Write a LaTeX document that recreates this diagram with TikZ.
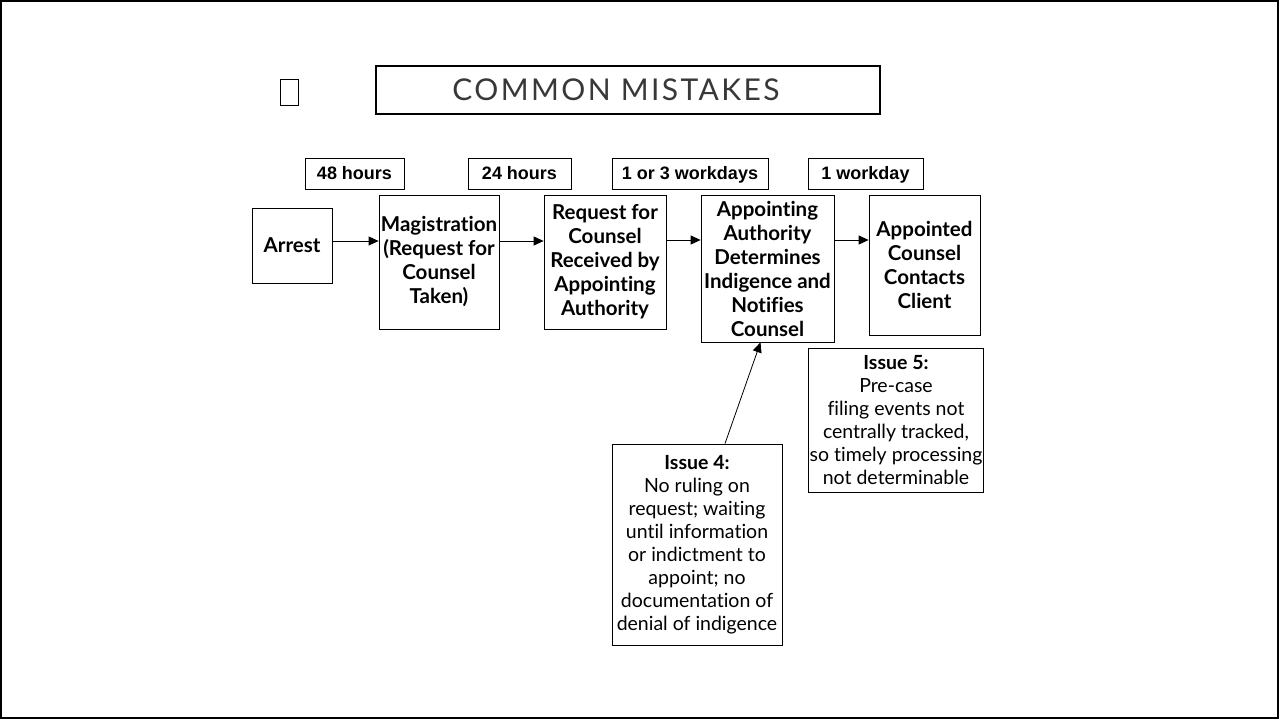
\documentclass[tikz,border=0pt]{standalone}
\usepackage{fontspec}
\setmainfont{Lato}[Ligatures={NoCommon}]
\newfontfamily\arfont{Liberation Sans}
\usetikzlibrary{arrows.meta,calc}
\begin{document}
\begin{tikzpicture}[x=1pt,y=-1pt,
  box/.style={draw, line width=0.8pt, align=center, inner sep=1pt},
  stepbox/.style={box, font=\bfseries\fontsize{20.5}{24}\selectfont},
  timebox/.style={box, minimum height=31pt, text height=14.5pt, text depth=1.5pt, font=\arfont\bfseries\fontsize{18}{20}\selectfont},
  issuebox/.style={box, font=\fontsize{19.5}{23}\selectfont},
  arr/.style={line width=0.8pt, -{Triangle[length=10pt,width=9pt]}}]
\useasboundingbox (0,0) rectangle (1279,719);
\draw[line width=1.5pt] (1,1) rectangle (1278,718);
% title
\node[draw, line width=0.8pt, minimum width=18pt, minimum height=26pt] (sq) at (289,92) {};
\node[draw, line width=1.2pt, minimum width=504pt, minimum height=48pt] (title) at (628,90) {};
\node[text=black!78, inner sep=0pt,
  font=\addfontfeatures{LetterSpace=8}\fontsize{30}{32}\selectfont] (titletext) at (616,90) {COMMON MISTAKES};
% time labels
\node[timebox, minimum width=99pt] (t1) at (354.5,173.5) {48 hours};
\node[timebox, minimum width=103pt] (t2) at (519.5,173.5) {24 hours};
\node[timebox, minimum width=156pt] (t3) at (690,173.5) {1 or 3 workdays};
\node[timebox, minimum width=115pt] (t4) at (865.5,173.5) {1 workday};
% steps
\node[stepbox, minimum width=80pt, minimum height=75pt] (arrest) at (292,245.5) {Arrest};
\node[stepbox, minimum width=120pt, minimum height=134pt] (mag) at (439,262) {Magistration\\(Request for\\Counsel\\Taken)};
\node[stepbox, minimum width=122pt, minimum height=134pt] (req) at (605,262) {Request for\\Counsel\\Received by\\Appointing\\Authority};
\node[stepbox, minimum width=133pt, minimum height=147pt] (app) at (767.5,268.5) {Appointing\\Authority\\Determines\\Indigence and\\Notifies\\Counsel};
\node[stepbox, minimum width=111pt, minimum height=140pt] (appc) at (924.5,265) {Appointed\\Counsel\\Contacts\\Client};
% issues
\node[issuebox, minimum width=174pt, minimum height=144pt] (i5) at (896,420) {\textbf{Issue 5:}\\Pre-case\\filing events not\\centrally tracked,\\so timely processing\\not determinable};
\node[issuebox, minimum width=170pt, minimum height=201pt] (i4) at (697,544.5) {\textbf{Issue 4:}\\No ruling on\\request; waiting\\until information\\or indictment to\\appoint; no\\documentation of\\denial of indigence};
% arrows
\draw[arr] (arrest.east |- 0,241) -- (mag.west |- 0,241);
\draw[arr] (mag.east |- 0,241) -- (req.west |- 0,241);
\draw[arr] (req.east |- 0,240) -- (app.west |- 0,240);
\draw[arr] (app.east |- 0,240) -- (appc.west |- 0,240);
\draw[arr] ($(i4.north)+(28,0)$) -- ($(app.south)+(-7,0)$);
\end{tikzpicture}
\end{document}
